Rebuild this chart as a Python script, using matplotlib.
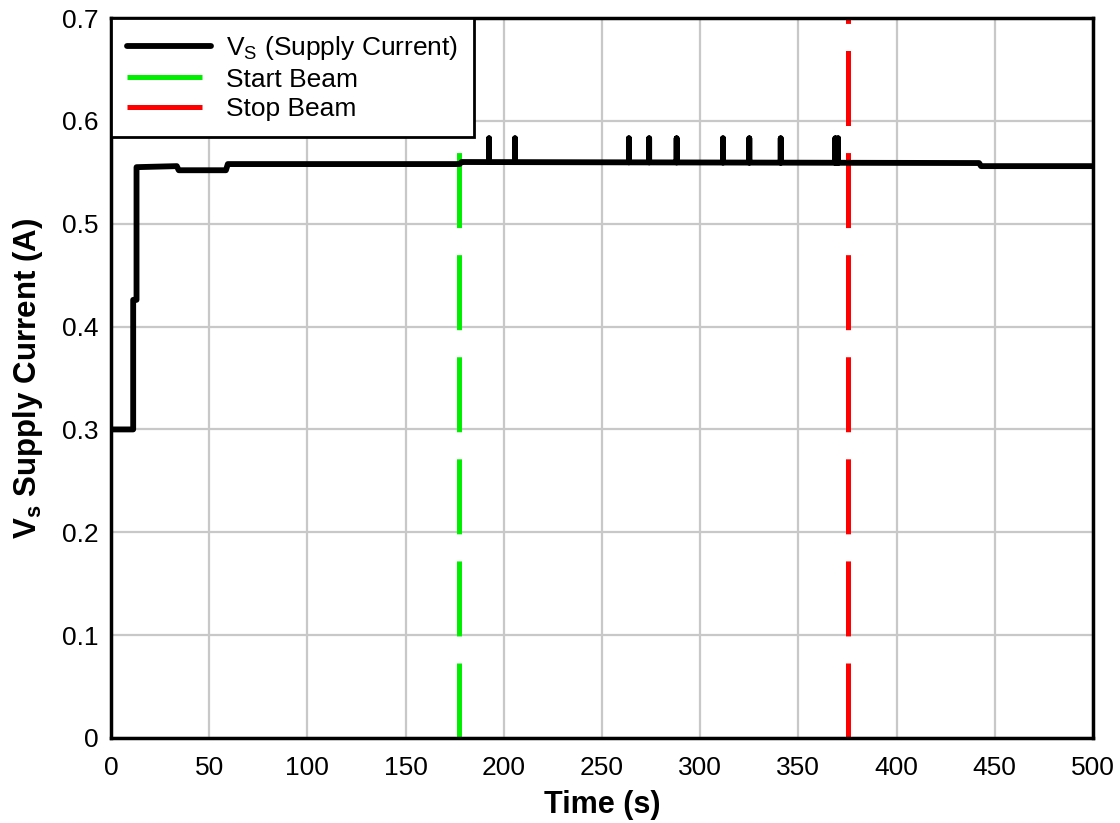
import numpy as np
import matplotlib.pyplot as plt

# Step levels of the supply current (time in s, current in A)
step_times = [0, 11.3, 11.3, 13.0, 13.0, 33.5, 34.5, 58.5, 59.5, 177.5, 178.5, 442.0, 443.0, 500]
step_values = [0.300, 0.300, 0.426, 0.426, 0.555, 0.556, 0.552, 0.552, 0.558, 0.558, 0.560, 0.559, 0.556, 0.556]

# Short current spikes
spike_times = [192.5, 205.7, 263.7, 274.0, 288.0, 311.6, 325.0, 341.0, 368.8, 370.2]
spike_peak = 0.583

start_beam = 177.3
stop_beam = 375.3

# build the trace: base steps with spikes inserted
t = list(step_times)
v = list(step_values)
for st in spike_times:
    base = np.interp(st, step_times, step_values)
    i = np.searchsorted(t, st)
    t[i:i] = [st, st, st]
    v[i:i] = [base, spike_peak, base]

plt.rcParams['font.family'] = ['Liberation Sans', 'DejaVu Sans']
plt.rcParams['mathtext.fontset'] = 'custom'
plt.rcParams['mathtext.rm'] = 'Liberation Sans'
plt.rcParams['mathtext.bf'] = 'Liberation Sans:bold'
plt.rcParams['lines.scale_dashes'] = False

fig = plt.figure(figsize=(11.2, 8.23), dpi=100)
ax = fig.add_axes([0.0991, 0.1033, 0.8768, 0.8748])

ax.plot(t, v, color='black', lw=4.2, solid_capstyle='round', solid_joinstyle='round',
        label=r'V$_\mathrm{S}$ (Supply Current)', zorder=3)
ax.axvline(start_beam, color='#00ee00', lw=3.6, dashes=(54, 19.5), label='Start Beam', zorder=2)
ax.axvline(stop_beam, color='#ff0000', lw=3.6, dashes=(54, 19.5), label='Stop Beam', zorder=2)

ax.set_xlim(0, 500)
ax.set_ylim(0, 0.7)
ax.set_xticks(np.arange(0, 501, 50))
ax.set_yticks(np.arange(0, 0.71, 0.1))
ax.set_yticklabels(['0', '0.1', '0.2', '0.3', '0.4', '0.5', '0.6', '0.7'])
ax.grid(True, color='#c8c8c8', lw=1.6)
ax.set_axisbelow(True)
ax.tick_params(axis='both', length=0, labelsize=19)
ax.tick_params(axis='x', pad=13)
ax.tick_params(axis='y', pad=9)
for s in ax.spines.values():
    s.set_linewidth(2.5)
    s.set_color('black')

ax.set_xlabel('Time (s)', fontsize=22, fontweight='bold', labelpad=7)
ax.set_ylabel(r'$\mathbf{V_s}$ Supply Current (A)', fontsize=22.5, fontweight='bold', labelpad=12)

leg = ax.legend(loc='upper left', bbox_to_anchor=(0, 1), borderaxespad=0, fontsize=19,
                handlelength=3.2, handletextpad=0.55, labelspacing=0.22, borderpad=0.6,
                fancybox=False, framealpha=1, edgecolor='black')
leg.get_frame().set_linewidth(2)
leg.set_zorder(5)

fig.savefig('out.png', dpi=100)
